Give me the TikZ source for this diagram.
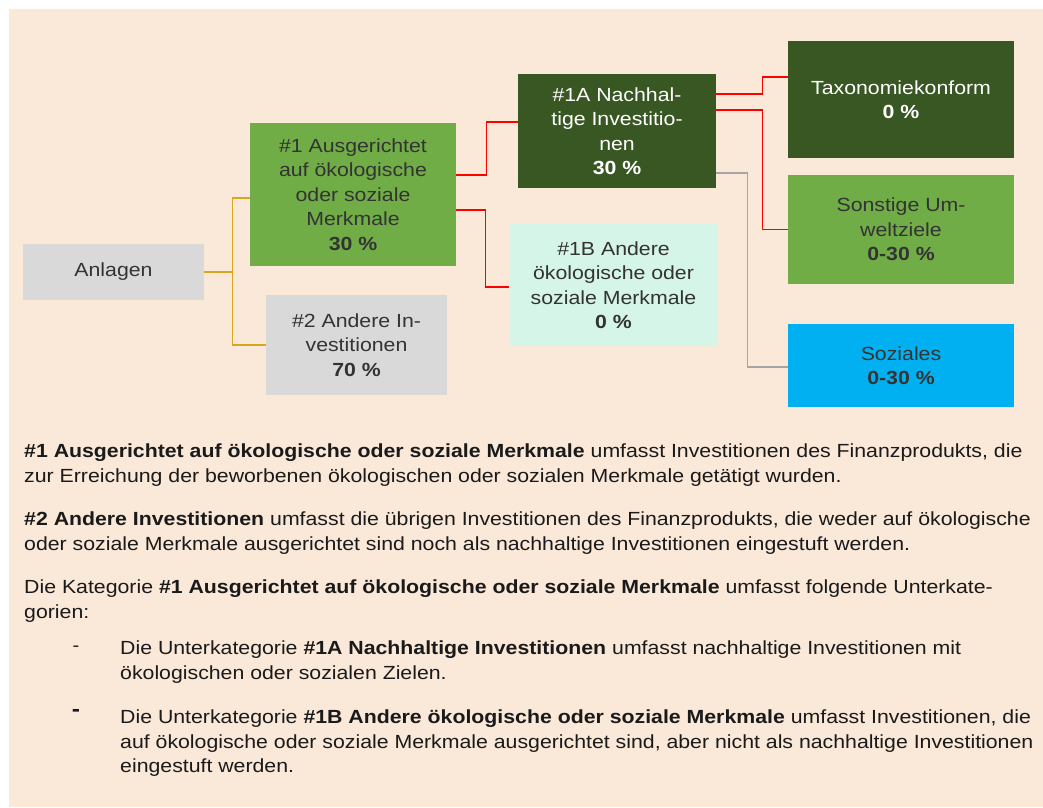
\documentclass[tikz,border=0pt]{standalone}
\usepackage{fontspec}
\setmainfont{Liberation Sans}[FakeStretch=1.12]
\usetikzlibrary{positioning}

\definecolor{peach}{RGB}{250,232,216}
\definecolor{greyfill}{RGB}{217,217,217}
\definecolor{lightgreen}{RGB}{112,173,71}
\definecolor{darkgreen}{RGB}{56,87,35}
\definecolor{mint}{RGB}{213,245,232}
\definecolor{skyblue}{RGB}{0,176,240}
\definecolor{goldline}{RGB}{218,165,32}
\definecolor{greyline}{RGB}{166,166,166}
\definecolor{boxtext}{RGB}{51,51,51}
\definecolor{bodytext}{RGB}{26,26,26}

\begin{document}
\begin{tikzpicture}[x=1pt,y=-1pt,
  box/.style={inner sep=0pt, align=center, text=boxtext,
    font=\fontsize{19}{24.5}\selectfont},
  para/.style={inner sep=0pt, anchor=north west, align=left, text=bodytext,
    font=\fontsize{19}{24.5}\selectfont},
  goldlink/.style={draw=goldline, line width=1.2pt},
  redlink/.style={draw=red, line width=1.2pt},
  greylink/.style={draw=greyline, line width=1.2pt}]
\useasboundingbox (0,0) rectangle (1043,807);
\fill[peach] (9,9) rectangle (1043,807);

% boxes
\node[box, fill=greyfill, minimum width=181pt, minimum height=56pt] (anlagen) at (113.5,272) {Anlagen};
\node[box, fill=lightgreen, minimum width=206pt, minimum height=143pt] (ausg) at (353,194.5)
  {\#1 Ausgerichtet\\auf ökologische\\oder soziale\\Merkmale\\\textbf{30 \%}};
\node[box, fill=greyfill, minimum width=181pt, minimum height=100pt] (andere) at (356.5,345)
  {\#2 Andere In-\\vestitionen\\\textbf{70 \%}};
\node[box, fill=darkgreen, text=white, minimum width=198pt, minimum height=114pt] (nachh) at (617,131)
  {\#1A Nachhal-\\tige Investitio-\\nen\\\textbf{30 \%}};
\node[box, fill=mint, minimum width=209pt, minimum height=122pt] (merkm) at (613.5,285)
  {\#1B Andere\\ökologische oder\\soziale Merkmale\\\textbf{0 \%}};
\node[box, fill=darkgreen, text=white, minimum width=226pt, minimum height=117pt] (taxo) at (901,99.5)
  {Taxonomiekonform\\\textbf{0 \%}};
\node[box, fill=lightgreen, minimum width=226pt, minimum height=109pt] (umwelt) at (901,229.5)
  {Sonstige Um-\\weltziele\\\textbf{0-30 \%}};
\node[box, fill=skyblue, minimum width=226pt, minimum height=83pt] (sozial) at (901,365.5)
  {Soziales\\\textbf{0-30 \%}};

% links
\draw[goldlink] (anlagen.east) -- ++(28,0) coordinate (fork) |- ([yshift=-3.5pt]ausg.west);
\draw[goldlink] (fork) |- (andere.west);
\draw[redlink] ([yshift=19.5pt]ausg.east) -- ++(30,0) |- ([yshift=9pt]nachh.west);
\draw[redlink] ([yshift=-15.5pt]ausg.east) -- ++(29,0) |- ([yshift=-2pt]merkm.west);
\draw[redlink] ([yshift=37pt]nachh.east) -- ++(46,0) |- ([yshift=22.5pt]taxo.west);
\draw[redlink] ([yshift=21pt]nachh.east) -- ++(46,0) |- (umwelt.west);
\draw[greylink] ([yshift=-42pt]nachh.east) -- ++(31,0) |- ([yshift=-1.5pt]sozial.west);

% text below
\node[para] (p1) at (24,444)
  {\textbf{\#1 Ausgerichtet auf ökologische oder soziale Merkmale} umfasst Investitionen des Finanzprodukts, die\\
   zur Erreichung der beworbenen ökologischen oder sozialen Merkmale getätigt wurden.};
\node[para] (p2) at (24,512)
  {\textbf{\#2 Andere Investitionen} umfasst die übrigen Investitionen des Finanzprodukts, die weder auf ökologische\\
   oder soziale Merkmale ausgerichtet sind noch als nachhaltige Investitionen eingestuft werden.};
\node[para] (p3) at (24,580)
  {Die Kategorie \textbf{\#1 Ausgerichtet auf ökologische oder soziale Merkmale} umfasst folgende Unterkate-\\
   gorien:};
\node[para] (b1) at (120,641)
  {Die Unterkategorie \textbf{\#1A Nachhaltige Investitionen} umfasst nachhaltige Investitionen mit\\
   ökologischen oder sozialen Zielen.};
\node[para] (b2) at (120,710)
  {Die Unterkategorie \textbf{\#1B Andere ökologische oder soziale Merkmale} umfasst Investitionen, die\\
   auf ökologische oder soziale Merkmale ausgerichtet sind, aber nicht als nachhaltige Investitionen\\
   eingestuft werden.};
\node[text=bodytext, font=\fontsize{18}{20}\selectfont] (d1) at (76,649) {-};
\node[text=bodytext, font=\bfseries\fontsize{22}{24}\selectfont] (d2) at (76,713) {-};
\end{tikzpicture}
\end{document}
